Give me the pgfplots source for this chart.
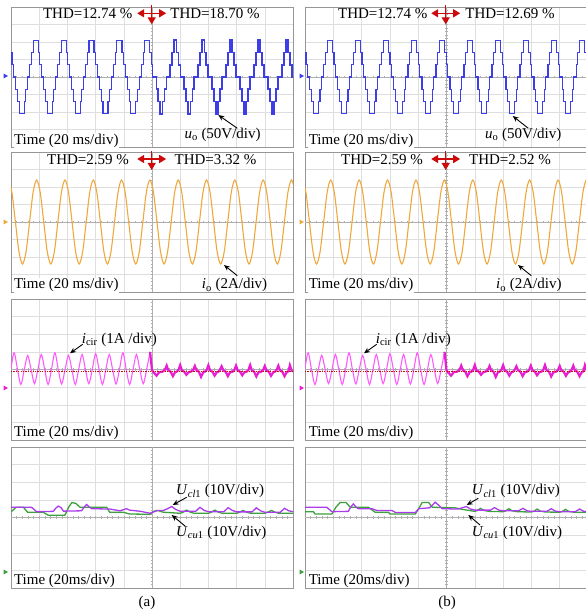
\documentclass[border=0pt]{standalone}
\usepackage{fontspec}
\setmainfont{Liberation Serif}
\usepackage{pgfplots}
\usepackage{pgfplotstable}
\pgfplotsset{compat=1.18}
\usetikzlibrary{arrows.meta}
\definecolor{uo}{RGB}{62,62,230}
\definecolor{io}{RGB}{238,168,60}
\definecolor{icirL}{RGB}{255,90,255}
\definecolor{icirR}{RGB}{232,30,210}
\definecolor{ucl}{RGB}{170,60,235}
\definecolor{ucu}{RGB}{60,160,60}
\definecolor{thdred}{RGB}{205,10,10}
\definecolor{gridc}{RGB}{222,222,222}
\definecolor{framec}{RGB}{150,150,150}
\definecolor{cenc}{RGB}{175,175,175}

% normal 7-level staircase u_o
\pgfplotstableread[row sep=\\]{x y\\
0.000 1.4\\ 0.035 0.7\\ 0.094 0\\ 0.173 -0.7\\ 0.233 -1.4\\ 0.292 -2.1\\ 0.470 -1.4\\ 0.530 -0.7\\ 0.589 0\\ 0.668 0.7\\ 0.728 1.4\\
0.787 2.1\\ 0.965 1.4\\ 1.025 0.7\\ 1.084 0\\ 1.163 -0.7\\ 1.223 -1.4\\ 1.282 -2.1\\ 1.460 -1.4\\ 1.520 -0.7\\ 1.579 0\\ 1.658 0.7\\ 1.718 1.4\\
1.777 2.1\\ 1.955 1.4\\ 2.015 0.7\\ 2.074 0\\ 2.153 -0.7\\ 2.213 -1.4\\ 2.272 -2.1\\ 2.450 -1.4\\ 2.510 -0.7\\ 2.569 0\\ 2.648 0.7\\ 2.708 1.4\\
2.767 2.1\\ 2.945 1.4\\ 3.005 0.7\\ 3.064 0\\ 3.143 -0.7\\ 3.203 -1.4\\ 3.262 -2.1\\ 3.440 -1.4\\ 3.500 -0.7\\ 3.559 0\\ 3.638 0.7\\ 3.698 1.4\\
3.757 2.1\\ 3.935 1.4\\ 3.995 0.7\\ 4.054 0\\ 4.133 -0.7\\ 4.193 -1.4\\ 4.252 -2.1\\ 4.430 -1.4\\ 4.490 -0.7\\ 4.549 0\\ 4.628 0.7\\ 4.688 1.4\\
4.747 2.1\\ 4.925 1.4\\ 4.985 0.7\\ 5.000 0.7\\ 5.044 0\\ 5.123 -0.7\\ 5.183 -1.4\\ 5.242 -2.1\\ 5.420 -1.4\\ 5.480 -0.7\\ 5.539 0\\ 5.618 0.7\\ 5.678 1.4\\
5.737 2.1\\ 5.915 1.4\\ 5.975 0.7\\ 6.034 0\\ 6.113 -0.7\\ 6.173 -1.4\\ 6.232 -2.1\\ 6.410 -1.4\\ 6.470 -0.7\\ 6.529 0\\ 6.608 0.7\\ 6.668 1.4\\
6.727 2.1\\ 6.905 1.4\\ 6.965 0.7\\ 7.024 0\\ 7.103 -0.7\\ 7.163 -1.4\\ 7.222 -2.1\\ 7.400 -1.4\\ 7.460 -0.7\\ 7.519 0\\ 7.598 0.7\\ 7.658 1.4\\
7.717 2.1\\ 7.895 1.4\\ 7.955 0.7\\ 8.014 0\\ 8.093 -0.7\\ 8.153 -1.4\\ 8.212 -2.1\\ 8.390 -1.4\\ 8.450 -0.7\\ 8.509 0\\ 8.588 0.7\\ 8.648 1.4\\
8.707 2.1\\ 8.885 1.4\\ 8.945 0.7\\ 9.004 0\\ 9.083 -0.7\\ 9.143 -1.4\\ 9.202 -2.1\\ 9.380 -1.4\\ 9.440 -0.7\\ 9.499 0\\ 9.578 0.7\\ 9.638 1.4\\
9.697 2.1\\ 9.875 1.4\\ 9.935 0.7\\ 9.994 0\\ 10.050 0\\
}\stairN

% distorted staircase (a), second half
\pgfplotstableread[row sep=\\]{x y\\
5.000 0.7\\ 5.014 0\\ 5.153 -0.7\\ 5.222 -1.4\\ 5.291 -2.1\\ 5.371 -1.4\\ 5.440 -0.7\\ 5.509 0\\ 5.648 0.7\\ 5.717 1.4\\
5.786 2.1\\ 5.866 1.4\\ 5.935 0.7\\ 6.004 0\\ 6.143 -0.7\\ 6.212 -1.4\\ 6.281 -2.1\\ 6.361 -1.4\\ 6.430 -0.7\\ 6.499 0\\ 6.638 0.7\\ 6.707 1.4\\
6.776 2.1\\ 6.856 1.4\\ 6.925 0.7\\ 6.994 0\\ 7.133 -0.7\\ 7.202 -1.4\\ 7.271 -2.1\\ 7.351 -1.4\\ 7.420 -0.7\\ 7.489 0\\ 7.628 0.7\\ 7.697 1.4\\
7.766 2.1\\ 7.846 1.4\\ 7.915 0.7\\ 7.984 0\\ 8.123 -0.7\\ 8.192 -1.4\\ 8.261 -2.1\\ 8.341 -1.4\\ 8.410 -0.7\\ 8.479 0\\ 8.618 0.7\\ 8.687 1.4\\
8.756 2.1\\ 8.836 1.4\\ 8.905 0.7\\ 8.974 0\\ 9.113 -0.7\\ 9.182 -1.4\\ 9.251 -2.1\\ 9.331 -1.4\\ 9.400 -0.7\\ 9.469 0\\ 9.608 0.7\\ 9.677 1.4\\
9.746 2.1\\ 9.826 1.4\\ 9.895 0.7\\ 9.964 0\\ 10.050 0\\
}\stairD

% load current i_o
\pgfplotstableread[row sep=\\]{x y\\
-0.094 2.4\\ 0.0315 1.70\\ 0.157 0\\ 0.2825 -1.70\\ 0.408 -2.4\\ 0.5335 -1.70\\ 0.659 0\\ 0.7845 1.70\\
0.910 2.4\\ 1.0355 1.70\\ 1.161 0\\ 1.2865 -1.70\\ 1.412 -2.4\\ 1.5375 -1.70\\ 1.663 0\\ 1.7885 1.70\\
1.914 2.4\\ 2.0395 1.70\\ 2.165 0\\ 2.2905 -1.70\\ 2.416 -2.4\\ 2.5415 -1.70\\ 2.667 0\\ 2.7925 1.70\\
2.918 2.4\\ 3.0435 1.70\\ 3.169 0\\ 3.2945 -1.70\\ 3.420 -2.4\\ 3.5455 -1.70\\ 3.671 0\\ 3.7965 1.70\\
3.922 2.4\\ 4.0475 1.70\\ 4.173 0\\ 4.2985 -1.70\\ 4.424 -2.4\\ 4.5495 -1.70\\ 4.675 0\\ 4.8005 1.70\\
4.926 2.4\\ 5.0515 1.70\\ 5.177 0\\ 5.3025 -1.70\\ 5.428 -2.4\\ 5.5535 -1.70\\ 5.679 0\\ 5.8045 1.70\\
5.930 2.4\\ 6.0555 1.70\\ 6.181 0\\ 6.3065 -1.70\\ 6.432 -2.4\\ 6.5575 -1.70\\ 6.683 0\\ 6.8085 1.70\\
6.934 2.4\\ 7.0595 1.70\\ 7.185 0\\ 7.3105 -1.70\\ 7.436 -2.4\\ 7.5615 -1.70\\ 7.687 0\\ 7.8125 1.70\\
7.938 2.4\\ 8.0635 1.70\\ 8.189 0\\ 8.3145 -1.70\\ 8.440 -2.4\\ 8.5655 -1.70\\ 8.691 0\\ 8.8165 1.70\\
8.942 2.4\\ 9.0675 1.70\\ 9.193 0\\ 9.3185 -1.70\\ 9.444 -2.4\\ 9.5695 -1.70\\ 9.695 0\\ 9.8205 1.70\\
9.946 2.4\\ 10.0715 1.70\\ 10.197 0\\
}\sineIO

% circulating current, first half
\pgfplotstableread[row sep=\\]{x y\\
-0.131 -0.85\\ -0.0105 0\\ 0.110 0.95\\ 0.2305 0\\ 0.351 -0.85\\ 0.4715 0\\
0.592 0.80\\ 0.7125 0\\ 0.833 -0.80\\ 0.9535 0\\ 1.074 0.85\\ 1.1945 0\\ 1.315 -0.85\\ 1.4355 0\\
1.556 0.95\\ 1.6765 0\\ 1.797 -0.82\\ 1.9175 0\\ 2.038 0.80\\ 2.1585 0\\ 2.279 -0.85\\ 2.3995 0\\
2.520 0.85\\ 2.6405 0\\ 2.761 -0.80\\ 2.8815 0\\ 3.002 0.90\\ 3.1225 0\\ 3.243 -0.85\\ 3.3635 0\\
3.484 0.85\\ 3.6045 0\\ 3.725 -0.82\\ 3.8455 0\\ 3.966 0.95\\ 4.0865 0\\ 4.207 -0.85\\ 4.3275 0\\
4.448 0.85\\ 4.5685 0\\ 4.689 -0.80\\ 4.8095 0\\ 4.930 1.00\\
}\cirL

% circulating current, second half
\pgfplotstableread[row sep=\\]{x y\\
4.930 1.00\\ 4.965 0.5\\ 5.000 -0.05\\ 5.08 -0.2\\ 5.16 -0.35\\ 5.26 -0.15\\ 5.38 -0.12\\
5.46 -0.02\\ 5.52 0.22\\ 5.58 -0.05\\ 5.66 -0.12\\ 5.74 -0.38\\ 5.82 -0.15\\ 5.88 -0.12\\
5.94 -0.02\\ 6.00 0.25\\ 6.06 -0.05\\ 6.14 -0.12\\ 6.22 -0.30\\ 6.30 -0.15\\ 6.38 -0.12\\
6.46 -0.02\\ 6.52 0.20\\ 6.58 -0.05\\ 6.66 -0.12\\ 6.74 -0.42\\ 6.82 -0.15\\ 6.88 -0.12\\
6.94 -0.02\\ 7.00 0.24\\ 7.06 -0.05\\ 7.14 -0.12\\ 7.22 -0.35\\ 7.30 -0.15\\ 7.36 -0.12\\
7.41 -0.02\\ 7.47 0.18\\ 7.53 -0.05\\ 7.61 -0.12\\ 7.69 -0.38\\ 7.77 -0.15\\ 7.86 -0.12\\
7.92 -0.02\\ 7.98 0.22\\ 8.04 -0.05\\ 8.12 -0.12\\ 8.20 -0.33\\ 8.28 -0.15\\ 8.36 -0.12\\
8.42 -0.02\\ 8.48 0.25\\ 8.54 -0.05\\ 8.62 -0.12\\ 8.70 -0.40\\ 8.78 -0.15\\ 8.88 -0.12\\
8.94 -0.02\\ 9.00 0.20\\ 9.06 -0.05\\ 9.14 -0.12\\ 9.22 -0.36\\ 9.30 -0.15\\ 9.36 -0.12\\
9.42 -0.02\\ 9.48 0.22\\ 9.54 -0.05\\ 9.62 -0.12\\ 9.70 -0.38\\ 9.78 -0.15\\ 9.84 -0.10\\
9.89 0.24\\ 9.95 -0.05\\ 10.00 -0.12\\
}\cirR

% capacitor voltages (a)
\pgfplotstableread[row sep=\\]{x y\\
0 0.58\\ 0.73 0.58\\ 0.91 0.33\\ 1.50 0.35\\ 1.60 0.55\\ 1.68 0.65\\ 1.78 0.55\\ 1.86 0.36\\ 2.50 0.38\\ 2.60 0.60\\ 2.68 0.74\\ 2.78 0.60\\ 2.86 0.50\\ 3.50 0.48\\ 3.87 0.38\\ 4.00 0.45\\ 4.10 0.50\\ 4.20 0.42\\ 4.60 0.35\\ 4.93 0.24\\
5.20 0.40\\ 5.40 0.40\\ 5.55 0.50\\ 5.70 0.62\\ 5.85 0.45\\ 6.00 0.35\\ 6.55 0.35\\ 6.70 0.58\\ 6.85 0.40\\ 7.00 0.33\\ 7.55 0.33\\ 7.70 0.56\\ 7.85 0.40\\ 8.00 0.32\\ 8.55 0.32\\ 8.70 0.55\\ 8.85 0.38\\ 9.00 0.30\\ 9.55 0.30\\ 9.70 0.52\\ 9.85 0.38\\ 10.0 0.33\\
}\uclA
\pgfplotstableread[row sep=\\]{x y\\
0 0.33\\ 0.10 0.45\\ 0.17 0.58\\ 0.44 0.58\\ 0.59 0.30\\ 1.14 0.30\\ 1.32 0.13\\ 1.91 0.13\\ 2.05 0.60\\ 2.16 0.85\\ 2.30 0.80\\ 2.45 0.58\\ 3.39 0.58\\ 3.50 0.30\\ 3.98 0.30\\ 4.20 0.20\\ 4.93 0.18\\ 5.05 0.35\\ 5.20 0.40\\
5.40 0.30\\ 6.00 0.24\\ 6.10 0.30\\ 6.23 0.42\\ 6.36 0.30\\ 6.50 0.24\\ 7.00 0.24\\ 7.10 0.30\\ 7.23 0.42\\ 7.36 0.30\\ 7.50 0.24\\ 8.00 0.24\\ 8.10 0.30\\ 8.23 0.40\\ 8.36 0.30\\ 8.50 0.24\\ 9.00 0.24\\ 9.10 0.30\\ 9.24 0.40\\ 9.36 0.30\\ 9.50 0.24\\ 10.0 0.24\\
}\ucuA
% capacitor voltages (b)
\pgfplotstableread[row sep=\\]{x y\\
0 0.58\\ 0.77 0.58\\ 0.95 0.33\\ 1.53 0.35\\ 1.62 0.60\\ 1.71 0.77\\ 1.80 0.60\\ 1.88 0.50\\ 2.36 0.50\\ 2.54 0.40\\ 3.07 0.40\\ 3.20 0.28\\ 3.90 0.28\\ 4.02 0.50\\ 4.40 0.55\\ 4.50 0.70\\ 4.60 0.87\\ 4.72 0.70\\ 4.85 0.50\\
5.40 0.48\\ 5.55 0.55\\ 5.70 0.62\\ 5.85 0.48\\ 6.00 0.42\\ 6.55 0.42\\ 6.70 0.56\\ 6.85 0.42\\ 7.00 0.38\\ 7.55 0.38\\ 7.70 0.52\\ 7.85 0.38\\ 8.00 0.35\\ 8.55 0.35\\ 8.70 0.50\\ 8.85 0.36\\ 9.00 0.33\\ 9.55 0.33\\ 9.70 0.48\\ 9.85 0.35\\ 10.0 0.33\\
}\uclB
\pgfplotstableread[row sep=\\]{x y\\
0 0.33\\ 0.30 0.33\\ 0.35 0.20\\ 0.95 0.20\\ 1.10 0.60\\ 1.24 0.85\\ 1.45 0.85\\ 1.60 0.58\\ 2.24 0.58\\ 2.48 0.30\\ 2.95 0.30\\ 3.00 0.20\\ 3.90 0.20\\ 4.05 0.60\\ 4.14 0.85\\ 4.37 0.85\\ 4.50 0.58\\ 5.30 0.55\\
5.60 0.45\\ 6.00 0.35\\ 6.10 0.40\\ 6.20 0.52\\ 6.32 0.40\\ 6.50 0.35\\ 7.00 0.33\\ 7.10 0.38\\ 7.20 0.50\\ 7.32 0.38\\ 7.50 0.33\\ 8.00 0.31\\ 8.10 0.36\\ 8.20 0.48\\ 8.32 0.36\\ 8.50 0.31\\ 9.00 0.30\\ 9.10 0.35\\ 9.20 0.46\\ 9.32 0.35\\ 9.50 0.30\\ 10.0 0.30\\
}\ucuB

\pgfplotsset{
  osc/.style={
    scale only axis, width=282pt, height=#1,
    xmin=0, xmax=10, ymin=-4, ymax=4,
    xtick={0,1,...,10}, ytick={-4,-3,...,4},
    xticklabels={}, yticklabels={},
    major tick length=0pt,
    grid=major,
    major grid style={draw=gridc, line width=0.5pt},
    axis line style={draw=framec, line width=0.8pt},
    anchor=south west,
  },
}
\newcommand{\oscaxes}{%
  \draw[cenc, line width=0.5pt] (axis cs:5,-4) -- (axis cs:5,4);
  \draw[cenc, line width=0.5pt] (axis cs:0,0) -- (axis cs:10,0);
  \pgfplotsinvokeforeach{0.2,0.4,...,9.8}{\draw[cenc,line width=0.4pt] (axis cs:##1,-0.08) -- (axis cs:##1,0.08);}
  \pgfplotsinvokeforeach{-3.8,-3.6,...,3.8}{\draw[cenc,line width=0.4pt] (axis cs:4.96,##1) -- (axis cs:5.04,##1);}
}
\tikzset{
  lab/.style={font=\fontsize{15}{18}\selectfont, inner sep=0pt},
  tlab/.style={font=\fontsize{15}{18}\selectfont, inner sep=0.6pt, fill=white, anchor=base west},
  parr/.style={-{Stealth[length=6pt,width=5pt]}, line width=0.9pt, black},
  rarr/.style={thdred, line width=1.4pt},
}
\newcommand{\thdsym}[2]{% center x, horizontal y
  \draw[rarr, {Triangle[length=7pt,width=8pt]}-{Triangle[length=7pt,width=8pt]}] (#1pt-14.5pt,#2pt) -- (#1pt+14.5pt,#2pt);
  \draw[rarr, -{Triangle[length=7pt,width=8pt]}] (#1pt,#2pt+8pt) -- (#1pt,#2pt-11pt);
}

\begin{document}
\begin{tikzpicture}[x=1pt,y=1pt]
\useasboundingbox (0pt,0pt) rectangle (586pt,614pt);

% ---------- column (a) ----------
\begin{axis}[osc=140pt, at={(11pt,467pt)}]
\oscaxes
\addplot[const plot, uo, line width=1.1pt, restrict x to domain=0:5] table {\stairN};
\addplot[const plot, uo, line width=1.6pt] table {\stairD};
\end{axis}
\begin{axis}[osc=140pt, at={(11pt,322pt)}]
\oscaxes
\addplot[smooth, io, line width=1.1pt] table {\sineIO};
\end{axis}
\begin{axis}[osc=141pt, at={(11pt,174pt)}]
\oscaxes
\addplot[smooth, icirL, line width=1.1pt] table {\cirL};
\addplot[sharp plot, icirR, line width=2.2pt] table {\cirR};
\addplot[thdred, line width=1.1pt, dash pattern=on 1.2pt off 1.2pt] coordinates {(0,-0.1) (10,-0.1)};
\end{axis}
\begin{axis}[osc=141pt, at={(11pt,26pt)}]
\oscaxes
\addplot[sharp plot, ucu, line width=1.3pt] table {\ucuA};
\addplot[sharp plot, ucl, line width=1.3pt] table {\uclA};
\end{axis}

% ---------- column (b) ----------
\begin{axis}[osc=140pt, width=283pt, at={(305pt,467pt)}]
\oscaxes
\addplot[const plot, uo, line width=1.1pt] table {\stairN};
\end{axis}
\begin{axis}[osc=140pt, width=283pt, at={(305pt,322pt)}]
\oscaxes
\addplot[smooth, io, line width=1.1pt] table {\sineIO};
\end{axis}
\begin{axis}[osc=141pt, width=283pt, at={(305pt,174pt)}]
\oscaxes
\addplot[smooth, icirL, line width=1.1pt] table {\cirL};
\addplot[sharp plot, icirR, line width=2.2pt] table {\cirR};
\addplot[thdred, line width=1.1pt, dash pattern=on 1.2pt off 1.2pt] coordinates {(0,-0.1) (10,-0.1)};
\end{axis}
\begin{axis}[osc=141pt, width=283pt, at={(305pt,26pt)}]
\oscaxes
\addplot[sharp plot, ucu, line width=1.3pt] table {\ucuB};
\addplot[sharp plot, ucl, line width=1.3pt] table {\uclB};
\end{axis}

% ---------- channel markers ----------
\foreach \xo in {0,296}{
  \fill[uo]  (\xo+3.5,540.5) -- (\xo+8,538) -- (\xo+3.5,535.5) -- cycle;
  \fill[io]  (\xo+3.5,394.5) -- (\xo+8,392) -- (\xo+3.5,389.5) -- cycle;
  \fill[icirR] (\xo+3.5,228.5) -- (\xo+8,226) -- (\xo+3.5,223.5) -- cycle;
  \fill[ucu] (\xo+3.5,44.5) -- (\xo+8,42) -- (\xo+3.5,39.5) -- cycle;
}

% ---------- row 1 annotations ----------
\node[lab, anchor=base] at (87.7,595) {THD=12.74 \%};
\node[lab, anchor=base] at (215,595) {THD=18.70 \%};
\thdsym{151.7}{600.7}
\node[lab, anchor=base] at (382.8,595) {THD=12.74 \%};
\node[lab, anchor=base] at (510,595) {THD=12.69 \%};
\thdsym{445.7}{600.7}
\node[tlab] at (13.3,469.7) {Time (20 ms/div)};
\node[tlab] at (308,469.7) {Time (20 ms/div)};
\node[lab, anchor=base west] at (184.3,475.7) {\textit{u}\textsubscript{o} (50V/div)};
\node[lab, anchor=base west] at (485,475.7) {\textit{u}\textsubscript{o} (50V/div)};
\draw[parr] (237.3,485.7) -- (218.3,499);
\draw[parr] (528.3,485.7) -- (512.7,498);

% ---------- row 2 annotations ----------
\node[lab, anchor=base] at (88,449) {THD=2.59 \%};
\node[lab, anchor=base] at (215.5,449) {THD=3.32 \%};
\thdsym{151.7}{455}
\node[lab, anchor=base] at (382,449) {THD=2.59 \%};
\node[lab, anchor=base] at (510,449) {THD=2.52 \%};
\thdsym{445.7}{455}
\node[tlab] at (13.3,325) {Time (20 ms/div)};
\node[tlab] at (308,325) {Time (20 ms/div)};
\node[lab, anchor=base west] at (201.7,325) {\textit{i}\textsubscript{o} (2A/div)};
\node[lab, anchor=base west] at (496,325) {\textit{i}\textsubscript{o} (2A/div)};
\draw[parr] (237.3,338.3) -- (224,349);
\draw[parr] (531.3,338.3) -- (518,349);

% ---------- row 3 annotations ----------
\node[lab, anchor=base west] at (81.7,270.7) {\textit{i}\textsubscript{cir} (1A /div)};
\node[lab, anchor=base west] at (375.7,270.7) {\textit{i}\textsubscript{cir} (1A /div)};
\draw[parr] (82.7,269.7) -- (70,260.7);
\draw[parr] (376.7,269.7) -- (364,260.7);
\node[tlab] at (13.3,177.3) {Time (20 ms/div)};
\node[tlab] at (308,177.3) {Time (20 ms/div)};

% ---------- row 4 annotations ----------
\node[lab, anchor=base west] at (176,119) {\textit{U}\textsubscript{\textit{cl}1} (10V/div)};
\node[lab, anchor=base west] at (176,77.3) {\textit{U}\textsubscript{\textit{cu}1} (10V/div)};
\draw[parr] (186.7,116.7) -- (172.7,109);
\draw[parr] (185,88) -- (171.7,99);
\node[lab, anchor=base west] at (471.7,119) {\textit{U}\textsubscript{\textit{cl}1} (10V/div)};
\node[lab, anchor=base west] at (471.7,77.3) {\textit{U}\textsubscript{\textit{cu}1} (10V/div)};
\draw[parr] (478.3,115.7) -- (466.7,109);
\draw[parr] (480,89) -- (468.3,99);
\node[tlab] at (13.3,29.7) {Time (20ms/div)};
\node[tlab] at (308,29.7) {Time (20ms/div)};

\node[lab] at (147,11) {(a)};
\node[lab] at (447,11) {(b)};
\end{tikzpicture}
\end{document}
